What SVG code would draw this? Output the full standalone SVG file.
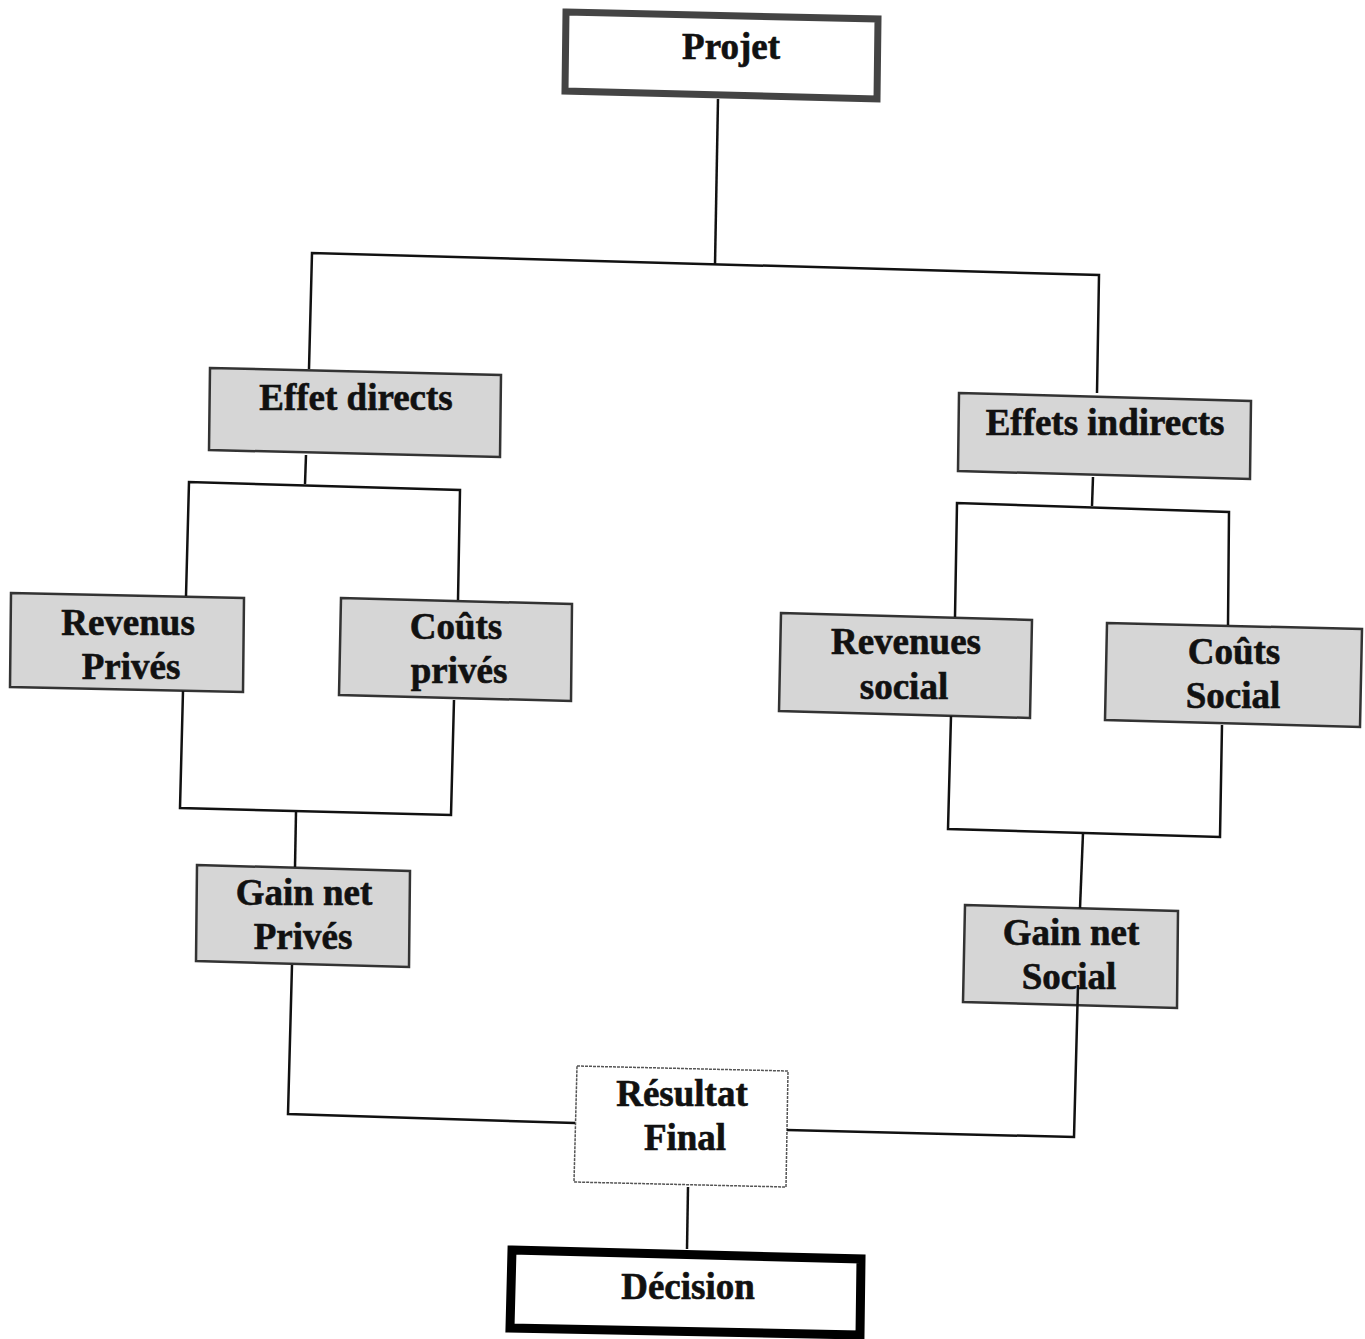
<svg xmlns="http://www.w3.org/2000/svg" width="1365" height="1339" viewBox="0 0 1365 1339">
<style>
.t{font-family:"Liberation Serif","Times New Roman",serif;font-weight:bold;font-size:37px;fill:#111;stroke:#111;stroke-width:0.6;text-anchor:middle}
.g{fill:#d6d6d6;stroke:#333;stroke-width:2.5}
.c{fill:none;stroke:#111;stroke-width:2.5}
</style>
<rect width="1365" height="1339" fill="#fff"/>
<g id="projet"><polygon points="566,12 878,19 877,99 565,91" fill="#fff" stroke="#444" stroke-width="7"/><text class="t" x="731" y="59">Projet</text></g>
<g id="effet-directs"><polygon points="210,368 501,375 500,457 209,450" class="g"/><text class="t" x="356" y="410">Effet directs</text></g>
<g id="effets-indirects"><polygon points="959,393 1251,401 1250,479 958,471" class="g"/><text class="t" x="1105" y="435">Effets indirects</text></g>
<g id="revenus-prives"><polygon points="11,593 244,598 243,692 10,687" class="g"/><text class="t" x="128" y="635">Revenus</text><text class="t" x="131" y="679">Privés</text></g>
<g id="couts-prives"><polygon points="341,598 572,604 571,701 339,695" class="g"/><text class="t" x="456" y="639">Coûts</text><text class="t" x="459" y="683">privés</text></g>
<g id="revenues-social"><polygon points="781,613 1032,620 1030,718 779,711" class="g"/><text class="t" x="906" y="654">Revenues</text><text class="t" x="904" y="699">social</text></g>
<g id="couts-social"><polygon points="1107,623 1362,629 1360,727 1105,720" class="g"/><text class="t" x="1234" y="664">Coûts</text><text class="t" x="1233" y="708">Social</text></g>
<g id="gain-net-prives"><polygon points="197,865 410,871 409,967 196,961" class="g"/><text class="t" x="304" y="905">Gain net</text><text class="t" x="303" y="949">Privés</text></g>
<g id="gain-net-social"><polygon points="965,905 1178,911 1177,1008 963,1002" class="g"/><text class="t" x="1071" y="945">Gain net</text><text class="t" x="1069" y="989">Social</text></g>
<g id="resultat-final"><polygon points="577,1066 788,1071 786,1187 574,1182" fill="#fff" stroke="#555" stroke-width="1.5" stroke-dasharray="3,1"/><text class="t" x="682" y="1106">Résultat</text><text class="t" x="685" y="1150">Final</text></g>
<g id="decision"><polygon points="512,1250 861,1259 860,1335 510,1328" fill="#fff" stroke="#000" stroke-width="9"/><text class="t" x="688" y="1299">Décision</text></g>
<g id="connectors">
<polyline class="c" points="718,99 715,265"/>
<polyline class="c" points="309,369 312,253 1099,275 1097,393"/>
<polyline class="c" points="306,455 305,484"/>
<polyline class="c" points="186,596 189,482 460,490 458,600"/>
<polyline class="c" points="183,691 180,808 451,815 454,700"/>
<polyline class="c" points="296,812 295,867"/>
<polyline class="c" points="292,965 288,1114 575,1123"/>
<polyline class="c" points="1093,477 1092,506"/>
<polyline class="c" points="955,617 957,503 1229,512 1228,625"/>
<polyline class="c" points="951,716 948,829 1220,837 1222,725"/>
<polyline class="c" points="1083,833 1080,908"/>
<polyline class="c" points="787,1130 1074,1137 1078,985"/>
<polyline class="c" points="688,1187 687,1249"/>
</g>
</svg>
